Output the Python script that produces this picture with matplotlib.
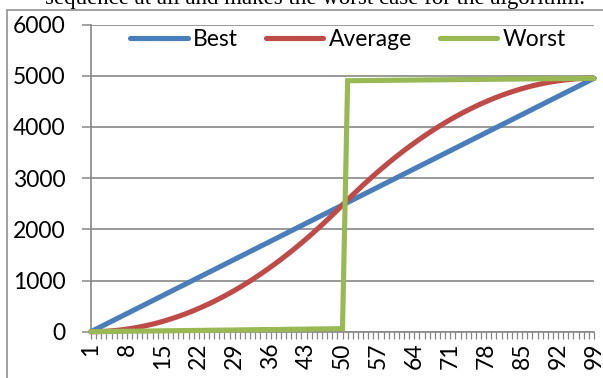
import matplotlib
matplotlib.use("Agg")
import matplotlib.pyplot as plt
from matplotlib.patches import Rectangle

categories = list(range(1, 100))

best = [0, 51, 101, 152, 202, 253, 303, 354, 404, 455,
        505, 556, 606, 657, 707, 758, 808, 859, 909, 960,
        1010, 1061, 1111, 1162, 1212, 1263, 1313, 1364, 1414, 1465,
        1515, 1566, 1616, 1667, 1717, 1768, 1818, 1869, 1919, 1970,
        2020, 2071, 2121, 2172, 2222, 2273, 2323, 2374, 2424, 2475,
        2525, 2576, 2626, 2677, 2727, 2778, 2828, 2879, 2929, 2980,
        3030, 3081, 3131, 3182, 3232, 3283, 3333, 3384, 3434, 3485,
        3535, 3586, 3636, 3687, 3737, 3788, 3838, 3889, 3939, 3990,
        4040, 4091, 4141, 4192, 4242, 4293, 4343, 4394, 4444, 4495,
        4545, 4596, 4646, 4697, 4747, 4798, 4848, 4899, 4950]

average = [0, 1, 4, 9, 16, 26, 37, 51, 66, 83,
           103, 125, 148, 174, 202, 232, 264, 298, 334, 372,
           412, 455, 499, 545, 594, 644, 697, 751, 808, 867,
           928, 991, 1056, 1123, 1192, 1263, 1336, 1411, 1489, 1568,
           1649, 1733, 1818, 1906, 1996, 2087, 2181, 2277, 2375, 2475,
           2575, 2673, 2769, 2863, 2954, 3044, 3132, 3217, 3301, 3382,
           3461, 3539, 3614, 3687, 3758, 3827, 3894, 3959, 4022, 4083,
           4142, 4199, 4253, 4306, 4356, 4405, 4451, 4495, 4538, 4578,
           4616, 4652, 4686, 4718, 4748, 4776, 4802, 4825, 4847, 4867,
           4884, 4899, 4913, 4924, 4934, 4941, 4946, 4949, 4950]

worst = [0, 1, 2, 4, 5, 6, 7, 8, 10, 11,
         12, 13, 14, 16, 17, 18, 19, 20, 22, 23,
         24, 25, 26, 28, 29, 30, 31, 32, 34, 35,
         36, 37, 38, 40, 41, 42, 43, 44, 46, 47,
         48, 49, 50, 52, 53, 54, 55, 56, 58, 59,
         4902, 4903, 4904, 4905, 4906, 4907, 4908, 4909, 4910, 4911,
         4912, 4913, 4914, 4915, 4916, 4917, 4918, 4919, 4920, 4921,
         4922, 4923, 4924, 4925, 4926, 4927, 4928, 4929, 4930, 4931,
         4932, 4933, 4934, 4935, 4936, 4937, 4938, 4939, 4940, 4941,
         4942, 4943, 4944, 4945, 4946, 4947, 4948, 4949, 4950]

series_names = ["Best", "Average", "Worst"]
colors = ["#4A7EBB", "#BE4B48", "#98B954"]
yticks = [0, 1000, 2000, 3000, 4000, 5000, 6000]

plt.rcParams['font.family'] = ['Lato', 'DejaVu Sans']

W, H = 603, 378
fig = plt.figure(figsize=(W / 100, H / 100), dpi=100)

# caption text above the chart, cut off at the top edge as in the source
fig.text(585 / W, 1 - 4 / H, "sequence at all and makes the worst case for the algorithm.",
         ha='right', va='baseline', fontsize=16.5, family=['Liberation Serif'], color='black')

# chart border box
fig.patches.append(Rectangle((7 / W, -0.1), 1.2, (H - 9.5) / H + 0.1, transform=fig.transFigure,
                             fill=False, edgecolor='#888888', linewidth=1.1, zorder=0))

ax = fig.add_axes([91 / W, (H - 331.7) / H, (594 - 91) / W, (331.7 - 24.5) / H])

for name, vals, c in zip(series_names, [best, average, worst], colors):
    ax.plot(categories, vals, color=c, linewidth=3.7, label=name,
            solid_capstyle='round', solid_joinstyle='miter', clip_on=False, zorder=3)

ax.set_xlim(1, 99)
ax.set_ylim(0, 6000)
ax.set_yticks(yticks)
ax.set_yticklabels([str(v) for v in yticks])
ax.set_xticks(categories)
ax.set_xticklabels([str(c) if (c - 1) % 7 == 0 else "" for c in categories], rotation=90)

ax.grid(axis='y', color='#878787', linewidth=1.2)
ax.set_axisbelow(True)
for s in ['top', 'right']:
    ax.spines[s].set_visible(False)
for s in ['left', 'bottom']:
    ax.spines[s].set_color('#878787')
    ax.spines[s].set_linewidth(1.2)

ax.tick_params(axis='y', direction='out', length=6.5, width=1.1, color='#878787',
               pad=12, labelsize=16.5)
ax.tick_params(axis='x', direction='out', length=5, width=0.9, color='#878787',
               pad=3, labelsize=16.5)

leg = ax.legend(loc='center', bbox_to_anchor=((348 - 91) / 503, 1 - (40 - 24.5) / 307.2),
                ncol=3, frameon=False, fontsize=16.5, handlelength=2.5, handletextpad=0.25,
                columnspacing=1.2, borderaxespad=0)

fig.savefig("out.png", dpi=100)
